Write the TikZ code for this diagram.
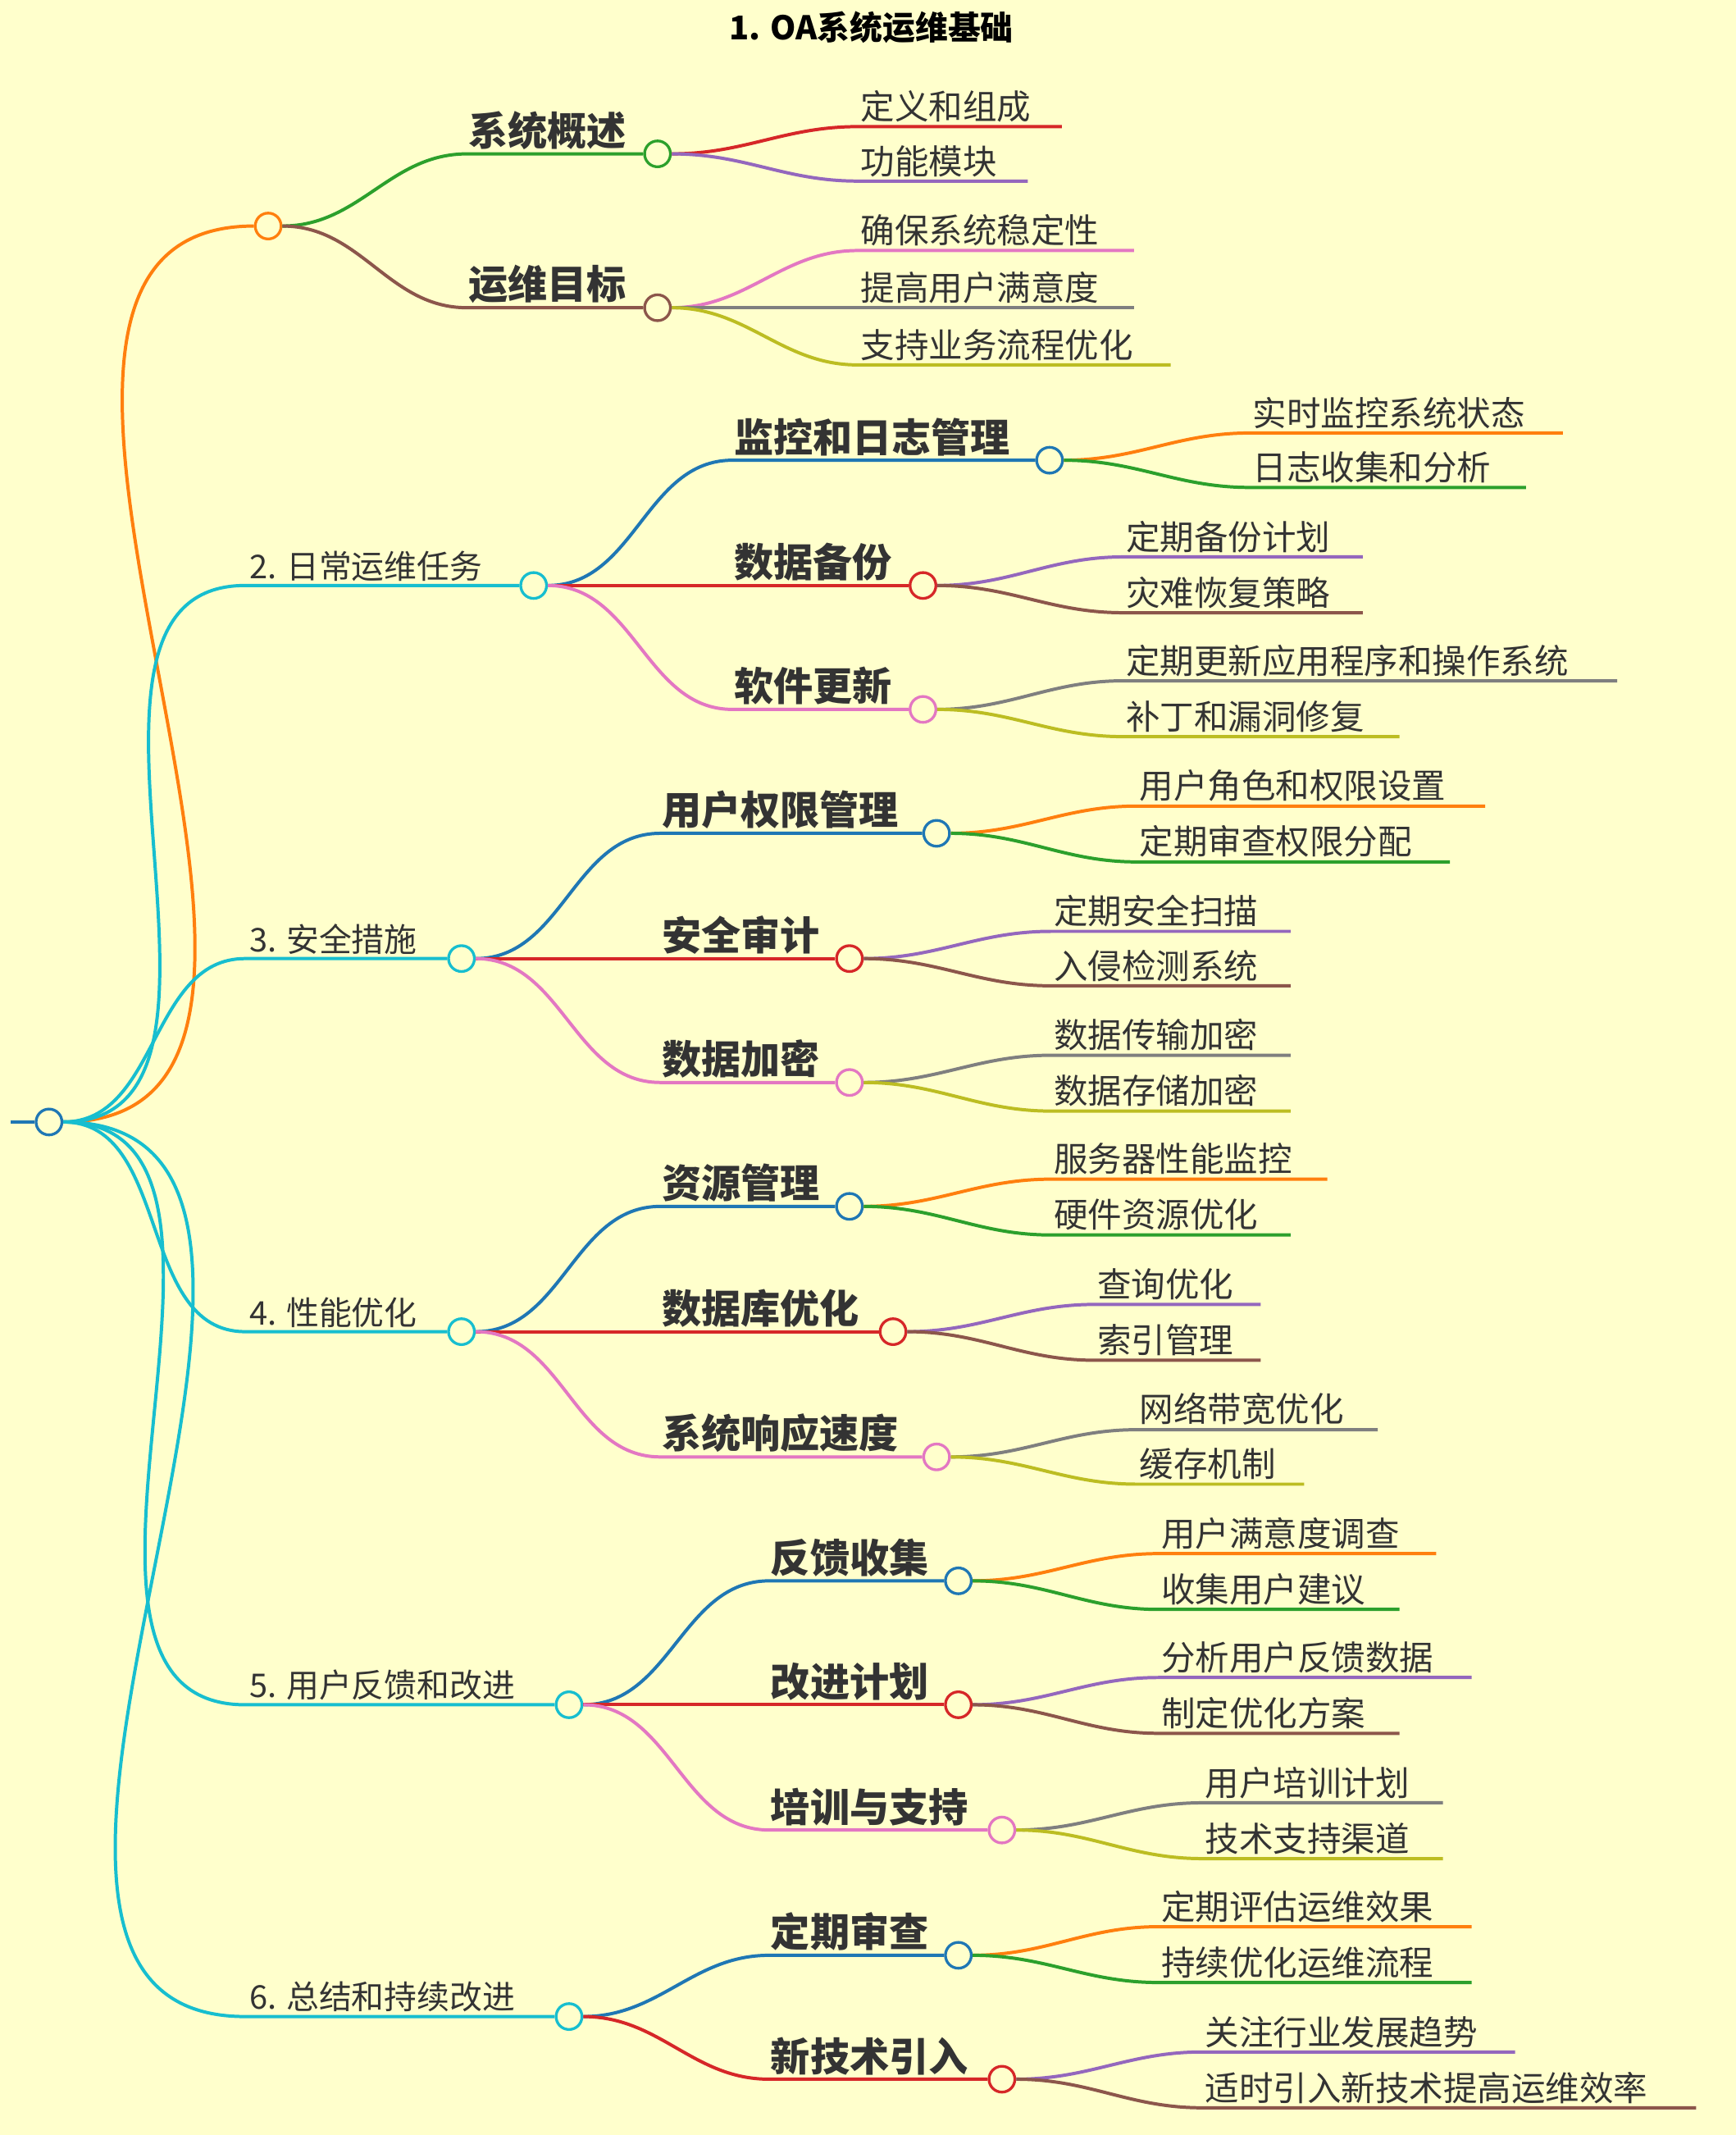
\documentclass[tikz,border=0pt]{standalone}
\usepackage{fontspec}
\setmainfont{Noto Sans CJK SC}
\definecolor{cOr}{HTML}{FF7F0E}\definecolor{cGr}{HTML}{2CA02C}\definecolor{cRe}{HTML}{D62728}
\definecolor{cPu}{HTML}{9467BD}\definecolor{cBr}{HTML}{8C564B}\definecolor{cPi}{HTML}{E377C2}
\definecolor{cGy}{HTML}{7F7F7F}\definecolor{cOl}{HTML}{BCBD22}\definecolor{cCy}{HTML}{17BECF}
\definecolor{cBl}{HTML}{1F77B4}\definecolor{bg}{HTML}{FFFFCC}\definecolor{tx}{HTML}{333333}
\tikzset{
 dot/.style={circle,draw=#1,fill=bg,line width=2pt,minimum size=19pt,inner sep=0pt},
 edge/.style={draw=#1,line width=2.4pt},
 leaftxt/.style={anchor=south west,inner sep=1pt,yshift=2pt,xshift=1pt,font=\fontsize{25}{25}\selectfont,text=tx},
 midtxt/.style={anchor=south west,inner sep=1pt,yshift=2pt,font=\fontsize{29}{29}\selectfont\bfseries,text=tx},
 toptxt/.style={anchor=south west,inner sep=1pt,yshift=2pt,xshift=2pt,font=\fontsize{24}{24}\selectfont,text=tx},
}
% leaf: parent, name, x, y, endx, color, text
\newcommand\lf[7]{%
 \coordinate (#2s) at (#3,#4); \coordinate (#2e) at (#5,#4);
 \draw[edge=#6] (#1.east) to[out=0,in=180] (#2s) -- (#2e);
 \node[leaftxt] (#2) at (#2s) {#7};}
% mid: parent, name, x0, x1, y, color, text
\newcommand\md[7]{%
 \coordinate (#2s) at (#3,#5);
 \node[dot=#6] (#2) at (#4,#5) {};
 \draw[edge=#6] (#1.east) to[out=0,in=180] (#2s) -- (#2.west);
 \node[midtxt] (#2t) at (#2s) {#7};}
% top: name, x1, y, color, text
\newcommand\tp[5]{%
 \coordinate (#1s) at (180,#3);
 \node[dot=#4] (#1) at (#2,#3) {};
 \draw[edge=#4] (root) to[out=0,in=180] (#1s) -- (#1.west);
 \node[toptxt] (#1t) at (#1s) {#5};}
\begin{document}
\begin{tikzpicture}[x=1pt,y=-1pt]
\fill[bg] (0,0) rectangle (1275,1568);
\useasboundingbox (0,0) rectangle (1275,1568);
\node[font=\fontsize{24}{24}\selectfont\bfseries,text=black] (title) at (640,20) {1. OA系统运维基础};
\node[dot=cBl] (root) at (36,824) {};
\coordinate (rl) at (8,824);
\draw[edge=cBl] (rl) -- (root.west);
% group 1
\node[dot=cOr] (g1) at (197,166) {};
\draw[edge=cOr] (root) to[out=0,in=180] (g1.west);
\md{g1}{a1}{343}{483}{113}{cGr}{系统概述}
\md{g1}{a2}{343}{483}{226}{cBr}{运维目标}
\lf{a1}{l11}{630}{93}{780}{cRe}{定义和组成}
\lf{a1}{l12}{630}{133}{755}{cPu}{功能模块}
\lf{a2}{l21}{630}{184}{833}{cPi}{确保系统稳定性}
\lf{a2}{l22}{630}{226}{833}{cGy}{提高用户满意度}
\lf{a2}{l23}{630}{268}{860}{cOl}{支持业务流程优化}
% group 2
\tp{g2}{392}{430}{cCy}{2. 日常运维任务}
\md{g2}{b1}{538}{771}{338}{cBl}{监控和日志管理}
\md{g2}{b2}{538}{678}{430}{cRe}{数据备份}
\md{g2}{b3}{538}{678}{521}{cPi}{软件更新}
\lf{b1}{m11}{918}{318}{1148}{cOr}{实时监控系统状态}
\lf{b1}{m12}{918}{358}{1121}{cGr}{日志收集和分析}
\lf{b2}{m21}{825}{409}{1001}{cPu}{定期备份计划}
\lf{b2}{m22}{825}{450}{1001}{cBr}{灾难恢复策略}
\lf{b3}{m31}{825}{500}{1188}{cGy}{定期更新应用程序和操作系统}
\lf{b3}{m32}{825}{541}{1028}{cOl}{补丁和漏洞修复}
% group 3
\tp{g3}{339}{704}{cCy}{3. 安全措施}
\md{g3}{c1}{485}{688}{612}{cBl}{用户权限管理}
\md{g3}{c2}{485}{624}{704}{cRe}{安全审计}
\md{g3}{c3}{485}{624}{795}{cPi}{数据加密}
\lf{c1}{n11}{835}{592}{1091}{cOr}{用户角色和权限设置}
\lf{c1}{n12}{835}{633}{1065}{cGr}{定期审查权限分配}
\lf{c2}{n21}{772}{684}{948}{cPu}{定期安全扫描}
\lf{c2}{n22}{772}{724}{948}{cBr}{入侵检测系统}
\lf{c3}{n31}{772}{775}{948}{cGy}{数据传输加密}
\lf{c3}{n32}{772}{816}{948}{cOl}{数据存储加密}
% group 4
\tp{g4}{339}{978}{cCy}{4. 性能优化}
\md{g4}{d1}{485}{624}{886}{cBl}{资源管理}
\md{g4}{d2}{485}{656}{978}{cRe}{数据库优化}
\md{g4}{d3}{485}{688}{1070}{cPi}{系统响应速度}
\lf{d1}{o11}{772}{866}{975}{cOr}{服务器性能监控}
\lf{d1}{o12}{772}{907}{948}{cGr}{硬件资源优化}
\lf{d2}{o21}{804}{958}{926}{cPu}{查询优化}
\lf{d2}{o22}{804}{999}{926}{cBr}{索引管理}
\lf{d3}{o31}{835}{1050}{1012}{cGy}{网络带宽优化}
\lf{d3}{o32}{835}{1090}{958}{cOl}{缓存机制}
% group 5
\tp{g5}{418}{1252}{cCy}{5. 用户反馈和改进}
\md{g5}{e1}{565}{704}{1161}{cBl}{反馈收集}
\md{g5}{e2}{565}{704}{1252}{cRe}{改进计划}
\md{g5}{e3}{565}{736}{1344}{cPi}{培训与支持}
\lf{e1}{p11}{851}{1141}{1055}{cOr}{用户满意度调查}
\lf{e1}{p12}{851}{1182}{1028}{cGr}{收集用户建议}
\lf{e2}{p21}{851}{1232}{1081}{cPu}{分析用户反馈数据}
\lf{e2}{p22}{851}{1273}{1028}{cBr}{制定优化方案}
\lf{e3}{p31}{883}{1324}{1060}{cGy}{用户培训计划}
\lf{e3}{p32}{883}{1365}{1060}{cOl}{技术支持渠道}
% group 6
\tp{g6}{418}{1481}{cCy}{6. 总结和持续改进}
\md{g6}{f1}{565}{704}{1436}{cBl}{定期审查}
\md{g6}{f2}{565}{736}{1527}{cRe}{新技术引入}
\lf{f1}{q11}{851}{1415}{1081}{cOr}{定期评估运维效果}
\lf{f1}{q12}{851}{1456}{1081}{cGr}{持续优化运维流程}
\lf{f2}{q21}{883}{1507}{1113}{cPu}{关注行业发展趋势}
\lf{f2}{q22}{883}{1548}{1246}{cBr}{适时引入新技术提高运维效率}
\end{tikzpicture}
\end{document}
